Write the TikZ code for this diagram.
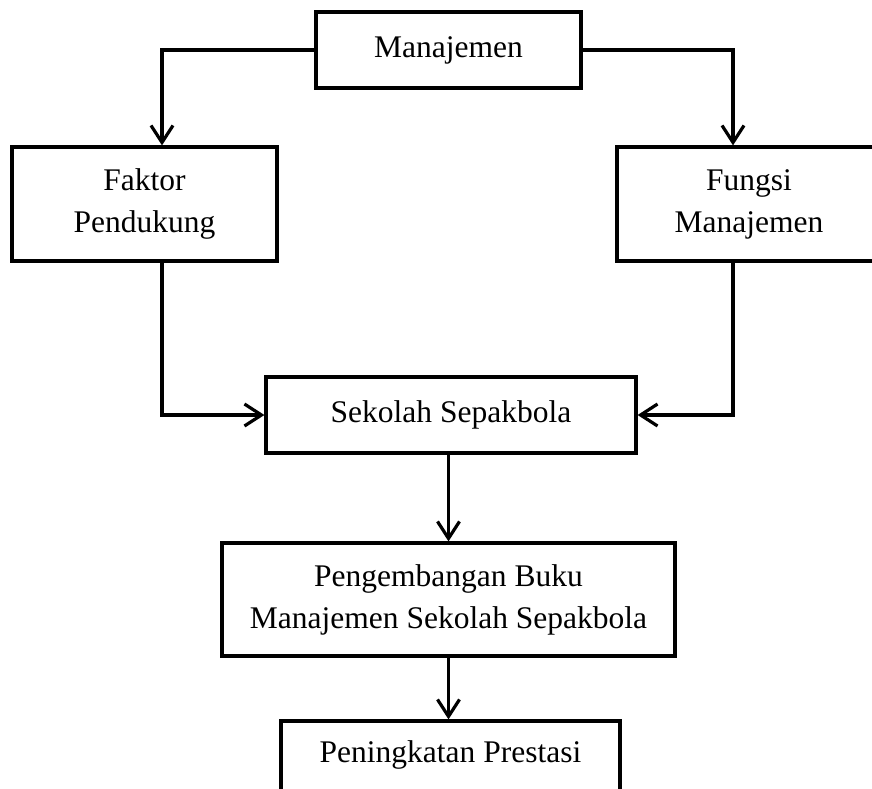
\documentclass[tikz,border=0pt]{standalone}
\usepackage{fontspec}
\setmainfont{Liberation Serif}
\usetikzlibrary{arrows.meta}
\begin{document}
\begin{tikzpicture}[x=1pt,y=-1pt,
  box/.style={draw=black,line width=3.2pt,inner sep=0pt,align=center,
    font=\fontsize{31.5}{42}\selectfont},
  arr/.style={draw=black,line width=3.2pt,-{Straight Barb[length=17pt,width=22pt,line width=3.2pt]}}]
\useasboundingbox (0,0) rectangle (872,789);
\node[box,minimum width=265pt,minimum height=76pt] (M) at (448.5,50) {Manajemen};
\node[box,minimum width=265pt,minimum height=114pt] (F) at (144.5,204) {Faktor\\Pendukung};
\node[box,minimum width=264pt,minimum height=114pt] (G) at (749,204) {Fungsi\\Manajemen};
\node[box,minimum width=370pt,minimum height=76pt] (S) at (451,415) {Sekolah Sepakbola};
\node[box,minimum width=453pt,minimum height=113pt] (P) at (448.5,599.5) {Pengembangan Buku\\Manajemen Sekolah Sepakbola};
\node[box,minimum width=339pt,minimum height=90pt,text height=22pt,text depth=29pt] (Q) at (450.5,766) {Peningkatan Prestasi};
\coordinate (xl) at (162,0);
\coordinate (xr) at (733,0);
\draw[arr] (M.west) -| (F.north -| xl);
\draw[arr] (M.east) -| (G.north -| xr);
\draw[arr] (F.south -| xl) |- (S.west);
\draw[arr] (G.south -| xr) |- (S.east);
\draw[arr] (S.south -| P.north) -- (P.north);
\draw[arr] (P.south) -- (P.south |- Q.north);
\end{tikzpicture}
\end{document}
